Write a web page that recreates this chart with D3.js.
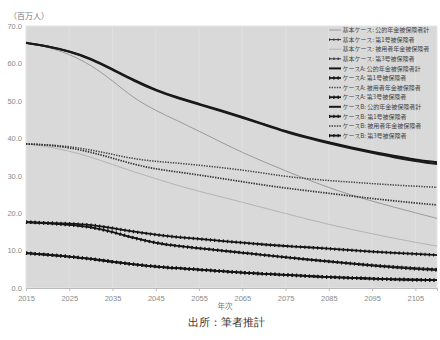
<!DOCTYPE html>
<html>
<head>
<meta charset="utf-8">
<script src="https://cdn.jsdelivr.net/npm/d3@7"></script>
<style>
  body { margin: 0; background: #fff; }
  svg { font-family: "Noto Sans CJK JP", "Noto Sans", sans-serif; }
</style>
</head>
<body>
<div class="graph-center"></div>
<script>
// data (million persons), every 5 years
let years = [2015, 2020, 2025, 2030, 2035, 2040, 2045, 2050, 2055, 2060, 2065, 2070, 2075, 2080, 2085, 2090, 2095, 2100, 2105, 2110]

let baseTotal = [65.5, 64.4, 62.5, 59.6, 55.4, 50.6, 47.4, 44.7, 41.9, 39.0, 36.2, 33.7, 31.3, 29.0, 26.8, 24.9, 23.2, 21.6, 20.1, 18.6]
let base1 = [17.6, 17.3, 16.9, 16.3, 15.0, 13.4, 12.1, 11.3, 10.7, 10.1, 9.5, 8.9, 8.3, 7.7, 7.2, 6.7, 6.2, 5.8, 5.4, 5.1]
let baseEmp = [38.5, 37.8, 36.6, 35.0, 33.0, 31.0, 29.2, 27.4, 25.8, 24.4, 22.9, 21.4, 19.9, 18.4, 17.0, 15.7, 14.5, 13.3, 12.2, 11.2]
let base3 = [9.3, 8.9, 8.4, 7.8, 7.0, 6.3, 5.7, 5.3, 4.9, 4.5, 4.1, 3.8, 3.5, 3.2, 2.9, 2.7, 2.5, 2.3, 2.2, 2.1]

let aTotal = [65.5, 64.6, 63.3, 61.4, 58.5, 55.5, 52.9, 50.9, 49.2, 47.5, 45.7, 43.8, 41.9, 40.3, 38.9, 37.6, 36.4, 35.3, 34.3, 33.6]
let a1 = [17.6, 17.3, 16.9, 16.3, 15.0, 13.3, 12.0, 11.2, 10.6, 10.0, 9.4, 8.8, 8.2, 7.6, 7.1, 6.5, 6.0, 5.5, 5.1, 4.8]
let aEmp = [38.5, 38.3, 37.8, 36.9, 35.7, 34.5, 33.8, 33.4, 32.8, 32.2, 31.5, 30.7, 29.8, 29.2, 28.7, 28.3, 27.9, 27.5, 27.2, 26.9]
let a3 = [9.3, 8.9, 8.4, 7.8, 7.0, 6.3, 5.7, 5.3, 4.9, 4.5, 4.1, 3.8, 3.5, 3.2, 2.9, 2.7, 2.5, 2.3, 2.2, 2.1]

let bTotal = [65.5, 64.6, 63.2, 61.2, 58.3, 55.3, 52.7, 50.7, 49.0, 47.3, 45.5, 43.6, 41.7, 40.1, 38.6, 37.3, 36.1, 34.9, 33.9, 33.1]
let b1 = [17.6, 17.4, 17.2, 16.9, 16.0, 15.0, 14.2, 13.6, 13.1, 12.6, 12.1, 11.6, 11.2, 10.9, 10.5, 10.1, 9.7, 9.4, 9.1, 8.8]
let bEmp = [38.5, 38.2, 37.5, 36.3, 34.7, 33.0, 31.8, 31.0, 30.2, 29.3, 28.4, 27.5, 26.7, 26.0, 25.3, 24.6, 23.9, 23.3, 22.7, 22.2]
let b3 = [9.3, 8.9, 8.4, 7.8, 7.0, 6.3, 5.7, 5.3, 4.9, 4.5, 4.1, 3.8, 3.5, 3.2, 2.9, 2.7, 2.5, 2.3, 2.2, 2.1]

let seriesNames = [
    "基本ケース: 公的年金被保険者計", "基本ケース: 第1号被保険者", "基本ケース: 被用者年金被保険者", "基本ケース: 第3号被保険者",
    "ケースA: 公的年金被保険者計", "ケースA: 第1号被保険者", "ケースA: 被用者年金被保険者", "ケースA: 第3号被保険者",
    "ケースB: 公的年金被保険者計", "ケースB: 第1号被保険者", "ケースB: 被用者年金被保険者", "ケースB: 第3号被保険者"
]
let seriesValues = [baseTotal, base1, baseEmp, base3, aTotal, a1, aEmp, a3, bTotal, b1, bEmp, b3]
let xTicks = [2015, 2025, 2035, 2045, 2055, 2065, 2075, 2085, 2095, 2105]
let yTicks = [0, 10, 20, 30, 40, 50, 60, 70]

// line styles per series
let styles = [
    {kind: "plain", color: "#9a9a9a", width: 1},
    {kind: "beads", color: "#333", width: 1, bead: 2.4},
    {kind: "plain", color: "#b4b4b4", width: 1},
    {kind: "beads", color: "#333", width: 1, bead: 2.4},
    {kind: "plain", color: "#151515", width: 2},
    {kind: "beads", color: "#151515", width: 1.8, bead: 3.4},
    {kind: "dots", color: "#444", width: 1.5},
    {kind: "beads", color: "#151515", width: 1.8, bead: 3.4},
    {kind: "plain", color: "#1a1a1a", width: 2},
    {kind: "beads", color: "#151515", width: 1.8, bead: 3.4},
    {kind: "dots", color: "#333", width: 1.7},
    {kind: "beads", color: "#151515", width: 1.8, bead: 3.4}
]

let svgWidth = 440
let svgHeight = 340
let plot = {left: 26, right: 437, top: 26, bottom: 288}

let svg = d3.select('.graph-center')
    .append('svg')
    .attr('width', svgWidth)
    .attr('height', svgHeight)

let xScale = d3.scaleLinear()
    .domain([2015, 2110])
    .range([plot.left, plot.right])
let yScale = d3.scaleLinear()
    .domain([0, 70])
    .range([plot.bottom, plot.top])

// plot background
svg.append('rect')
    .attr('x', plot.left)
    .attr('y', plot.top)
    .attr('width', plot.right - plot.left)
    .attr('height', plot.bottom - plot.top)
    .attr('fill', '#d9d9d9')
    .attr('stroke', '#e6e6e6')
    .attr('stroke-width', 1)

// faint vertical grid
svg.append('g')
    .selectAll('line')
    .data(xTicks.slice(1))
    .join('line')
    .attr('x1', d => xScale(d)).attr('x2', d => xScale(d))
    .attr('y1', plot.top).attr('y2', plot.bottom)
    .attr('stroke', '#e0e0e0')
    .attr('stroke-width', 1)

// axes
let xAxis = d3.axisBottom(xScale)
    .tickValues(xTicks)
    .tickFormat(d3.format("d"))
    .tickSize(3)
let yAxis = d3.axisLeft(yScale)
    .tickValues(yTicks)
    .tickFormat(d3.format(".1f"))
    .tickSize(0)
    .tickPadding(4)

let gx = svg.append('g')
    .attr('transform', `translate(0,${plot.bottom})`)
    .call(xAxis)
gx.select('.domain').attr('stroke', '#bbb')
gx.selectAll('.tick line').attr('stroke', '#bbb')
gx.selectAll('text').attr('fill', '#8a8a8a').attr('font-size', 7.5).attr('dy', '0.9em')

let gy = svg.append('g')
    .attr('transform', `translate(${plot.left},0)`)
    .call(yAxis)
gy.select('.domain').remove()
gy.selectAll('text').attr('fill', '#8a8a8a').attr('font-size', 7.5)

// lines
let valueLine = d3.line()
    .x((d, i) => xScale(years[i]))
    .y(d => yScale(d))
    .curve(d3.curveBasis)

function drawSeries(g, values, st) {
    if (st.kind === "plain") {
        g.append('path').attr('d', valueLine(values))
            .attr('fill', 'none').attr('stroke', st.color).attr('stroke-width', st.width)
    } else if (st.kind === "dots") {
        g.append('path').attr('d', valueLine(values))
            .attr('fill', 'none').attr('stroke', st.color).attr('stroke-width', st.width)
            .attr('stroke-dasharray', '1.4,1.2')
    } else {
        g.append('path').attr('d', valueLine(values))
            .attr('fill', 'none').attr('stroke', st.color).attr('stroke-width', st.width)
        g.append('path').attr('d', valueLine(values))
            .attr('fill', 'none').attr('stroke', st.color).attr('stroke-width', st.bead)
            .attr('stroke-dasharray', '1.2,3.1')
    }
}

let linesG = svg.append('g')
seriesValues.forEach((vals, i) => drawSeries(linesG.append('g'), vals, styles[i]))

// legend
let legend = svg.append('g')
seriesNames.forEach((name, i) => {
    let y = 30 + i * 9.6
    let st = styles[i]
    let x0 = 329, x1 = 341
    let g = legend.append('g')
    let sym = g.append('line').attr('x1', x0).attr('x2', x1).attr('y1', y).attr('y2', y)
        .attr('stroke', st.color).attr('stroke-width', st.width)
    if (st.kind === "dots") sym.attr('stroke-dasharray', '1.4,1.2')
    if (st.kind === "beads") {
        g.append('line').attr('x1', x0).attr('x2', x1).attr('y1', y).attr('y2', y)
            .attr('stroke', st.color).attr('stroke-width', st.bead)
            .attr('stroke-dasharray', '1.2,3.1')
    }
    g.append('text')
        .attr('x', x1 + 1.5)
        .attr('y', y)
        .attr('dy', '0.35em')
        .attr('font-size', 6)
        .attr('fill', '#444')
        .text(name)
})

// titles
svg.append('text')
    .attr('x', 9).attr('y', 19)
    .attr('font-size', 8).attr('fill', '#777')
    .text('（百万人）')

svg.append('text')
    .attr('x', 225).attr('y', 309)
    .attr('text-anchor', 'middle')
    .attr('font-size', 7.5).attr('fill', '#777')
    .text('年次')

svg.append('text')
    .attr('x', 226).attr('y', 326)
    .attr('text-anchor', 'middle')
    .attr('font-size', 10.5).attr('fill', '#333')
    .attr('font-weight', 300)
    .attr('font-family', 'serif')
    .text('出所：筆者推計')
</script>
</body>
</html>
